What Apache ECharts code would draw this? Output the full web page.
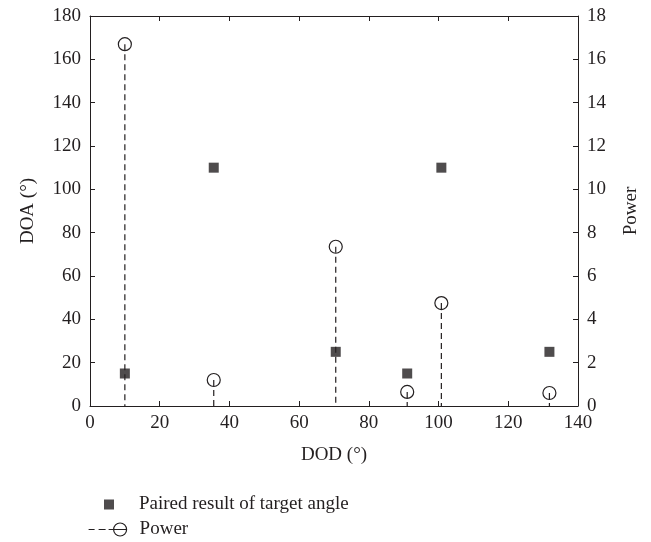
<!DOCTYPE html>
<html>
<head>
<meta charset="utf-8">
<script src="https://cdn.jsdelivr.net/npm/echarts@6/dist/echarts.min.js"></script>
<style>
  html, body { margin: 0; padding: 0; background: #fff; }
  #chart { width: 651px; height: 542px; }
</style>
</head>
<body>
<div id="chart"></div>
<script>
// DOD positions (deg) of the detected targets
const dod = [10, 35.5, 70.5, 91, 100.8, 131.8]
// paired DOA (deg) for each target
const doa = [15, 110, 25, 15, 110, 25]
// spectrum power at each target
const power = [16.7, 1.2, 7.35, 0.65, 4.75, 0.6]

const ink = '#231f20'
const font = 'Liberation Serif'
const fs = 19

const pairedData = dod.map((x, i) => [x, doa[i]])
const powerData = dod.map((x, i) => [x, power[i]])

const axisCommon = {
  axisLine: {show: true, onZero: false, lineStyle: {color: ink, width: 1}},
  axisTick: {show: true, inside: true, length: 5, lineStyle: {color: ink}},
  splitLine: {show: false},
  axisLabel: {color: ink, fontFamily: font, fontSize: fs}
}

let chart = echarts.init(document.getElementById('chart'))
chart.setOption({
  animation: false,
  backgroundColor: '#fff',
  grid: {left: 90, right: 73, top: 16, bottom: 136},
  xAxis: [
    Object.assign({}, axisCommon, {
      type: 'value', min: 0, max: 140, interval: 20, position: 'bottom',
      name: 'DOD (°)', nameLocation: 'middle', nameGap: 40,
      nameTextStyle: {color: ink, fontFamily: font, fontSize: fs},
      axisLabel: {color: ink, fontFamily: font, fontSize: fs, margin: 8}
    }),
    Object.assign({}, axisCommon, {
      type: 'value', min: 0, max: 140, interval: 20, position: 'top',
      axisLabel: {show: false}
    })
  ],
  yAxis: [
    Object.assign({}, axisCommon, {
      type: 'value', min: 0, max: 180, interval: 20, position: 'left',
      name: 'DOA (°)', nameLocation: 'middle', nameRotate: 90, nameGap: 52,
      nameTextStyle: {color: ink, fontFamily: font, fontSize: fs},
      axisLabel: {color: ink, fontFamily: font, fontSize: fs, margin: 9}
    }),
    Object.assign({}, axisCommon, {
      type: 'value', min: 0, max: 18, interval: 2, position: 'right',
      name: 'Power', nameLocation: 'middle', nameRotate: 90, nameGap: 44,
      nameTextStyle: {color: ink, fontFamily: font, fontSize: fs},
      axisLabel: {color: ink, fontFamily: font, fontSize: fs, margin: 9}
    })
  ],
  legend: [
    {
      data: ['Paired result of target angle'],
      left: 99, top: 490,
      icon: 'rect', itemWidth: 10, itemHeight: 10,
      itemStyle: {color: ink},
      textStyle: {color: ink, fontFamily: font, fontSize: fs, padding: [0, 0, 0, 20]},
      selectedMode: false
    },
    {
      data: ['Power'],
      left: 83, top: 515,
      icon: 'path://M0,6.5L6,6.5M10,6.5L17,6.5M20,6.5L38,6.5M38,6.5A6.5,6.5,0,1,1,25,6.5A6.5,6.5,0,1,1,38,6.5',
      itemWidth: 38, itemHeight: 13,
      itemStyle: {color: 'transparent', borderColor: ink, borderWidth: 1.2},
      textStyle: {color: ink, fontFamily: font, fontSize: fs, padding: [0, 0, 0, 8]},
      selectedMode: false
    }
  ],
  series: [
    {
      name: 'Paired result of target angle',
      type: 'scatter',
      xAxisIndex: 0, yAxisIndex: 0,
      symbol: 'rect', symbolSize: 10,
      itemStyle: {color: ink},
      data: pairedData,
      z: 3
    },
    {
      name: 'Power',
      type: 'custom',
      xAxisIndex: 0, yAxisIndex: 1,
      data: powerData,
      z: 2,
      renderItem: (params, api) => {
        let top = api.coord([api.value(0), api.value(1)])
        let base = api.coord([api.value(0), 0])
        return {
          type: 'group',
          children: [
            {
              type: 'line',
              shape: {x1: top[0], y1: top[1], x2: base[0], y2: base[1]},
              style: {stroke: ink, lineWidth: 1.2, lineDash: [6, 4]}
            },
            {
              type: 'circle',
              shape: {cx: top[0], cy: top[1], r: 6.5},
              style: {fill: 'transparent', stroke: ink, lineWidth: 1.2}
            }
          ]
        }
      }
    }
  ]
})
</script>
</body>
</html>
